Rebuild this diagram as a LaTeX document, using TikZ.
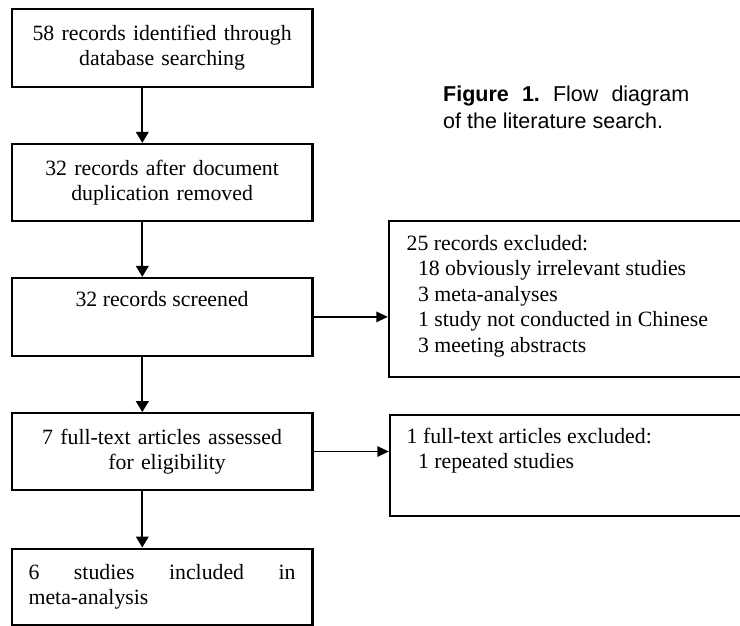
\documentclass[tikz,border=0pt]{standalone}
\usepackage{fontspec}
\setmainfont{Liberation Serif}
\newfontfamily\capfnt{Liberation Sans}
\usetikzlibrary{arrows.meta}
\newcommand\bxfnt{\fontsize{21.8pt}{25.5pt}\selectfont}
\tikzset{
  flowbox/.style={draw, line width=2.3pt, inner sep=0pt, font=\bxfnt, minimum width=300.8pt},
  sidebox/.style={draw, line width=2.3pt, inner sep=0pt, font=\bxfnt},
  downarrow/.style={line width=2.2pt, -{Triangle[length=11pt,width=12.5pt]}},
  sidearrow/.style={line width=1.3pt, -{Triangle[length=11.5pt,width=10.5pt]}}
}
\begin{document}
\begin{tikzpicture}[x=1pt,y=-1pt]
\useasboundingbox (0,0) rectangle (740,626);
\clip (0,0) rectangle (740,626);
\fill[white] (0,0) rectangle (740,626);

\node[flowbox, minimum height=78pt, text width=300.8pt, align=center] (b1) at (162.1,47.7)
  {58 records identified through\\database searching};
\node[flowbox, minimum height=77pt, text width=300.8pt, align=center] (b2) at (162.1,182.5)
  {32 records after document\\duplication removed};
\node[flowbox] (b3) at (162.1,316.9)
  {\parbox[c][77.7pt][t]{300.8pt}{\centering\vspace*{13.8pt}32 records screened}};
\node[flowbox, minimum height=76.4pt, text width=300.8pt, align=center] (b4) at (162.1,451.5)
  {7 full-text articles assessed\\\hspace*{10pt}for eligibility};
\node[flowbox, minimum height=76pt] (b5) at (162.1,586.7)
  {\parbox{267pt}{6\hfill studies\hfill included\hfill in\\meta-analysis}};

\node[sidebox] (r1) at (569.5,299)
  {\parbox[c][156.6pt][t]{361pt}{\raggedright\leftskip=17.7pt\vspace*{14.4pt}25 records excluded:\\
   \hspace*{11.3pt}18 obviously irrelevant studies\\
   \hspace*{11.3pt}3 meta-analyses\\
   \hspace*{11.3pt}1 study not conducted in Chinese\\
   \hspace*{11.3pt}3 meeting abstracts}};
\node[sidebox] (r2) at (570,465.5)
  {\parbox[c][101pt][t]{360pt}{\raggedright\leftskip=16.7pt\vspace*{13pt}1 full-text articles excluded:\\
   \hspace*{11.3pt}1 repeated studies}};

\node[inner sep=0pt, anchor=base west] (cap) at (443,101.7)
  {\parbox[t]{246pt}{\capfnt\fontsize{21.5pt}{27.3pt}\selectfont
   \textbf{Figure}\hfill\textbf{1.}\hfill Flow\hfill diagram\\of the literature search.}};

\draw[downarrow] ([xshift=-19.8pt]b1.south) -- ([xshift=-19.8pt]b2.north);
\draw[downarrow] ([xshift=-19.8pt]b2.south) -- ([xshift=-19.8pt]b3.north);
\draw[downarrow] ([xshift=-19.8pt]b3.south) -- ([xshift=-19.8pt]b4.north);
\draw[downarrow] ([xshift=-19.8pt]b4.south) -- ([xshift=-19.8pt]b5.north);
\draw[sidearrow] (b3.east) -- (b3.east -| r1.west);
\draw[sidearrow] (b4.east) -- (b4.east -| r2.west);
\end{tikzpicture}
\end{document}
